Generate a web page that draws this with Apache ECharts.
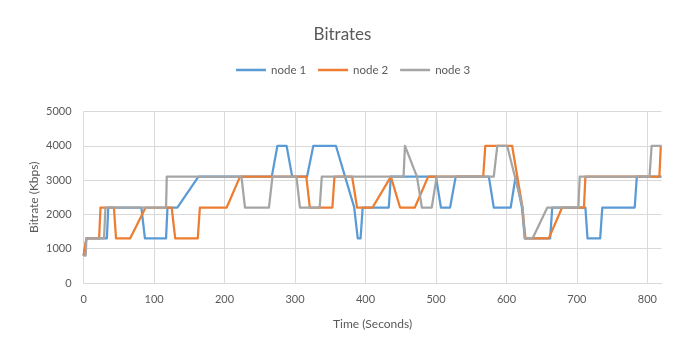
<!DOCTYPE html>
<html>
<head>
<meta charset="utf-8">
<script src="https://cdn.jsdelivr.net/npm/echarts@6/dist/echarts.min.js"></script>
<style>
  html, body { margin: 0; padding: 0; background: #fff; }
  #chart { width: 685px; height: 349px; }
</style>
</head>
<body>
<div id="chart"></div>
<script>
// Bitrate traces (seconds, Kbps) for each node
const node1Time = [0, 4, 33, 35, 82, 87, 117, 119, 133, 163, 267, 275, 288, 296, 317, 326, 358, 371, 384, 389, 393, 396, 433, 436, 500, 507, 520, 528, 575, 582, 606, 613, 622, 626, 662, 665, 712, 715, 733, 736, 782, 785, 820];
const node1Rate = [800, 1300, 1300, 2200, 2200, 1300, 1300, 2200, 2200, 3100, 3100, 4000, 4000, 3100, 3100, 4000, 4000, 3100, 2200, 1300, 1300, 2200, 2200, 3100, 3100, 2200, 2200, 3100, 3100, 2200, 2200, 3100, 2200, 1300, 1300, 2200, 2200, 1300, 1300, 2200, 2200, 3100, 3100];

const node2Time = [0, 4, 22, 24, 43, 46, 66, 88, 125, 130, 162, 165, 203, 222, 316, 321, 353, 356, 381, 388, 410, 436, 449, 470, 489, 567, 570, 608, 622, 627, 660, 679, 710, 712, 817, 819];
const node2Rate = [800, 1300, 1300, 2200, 2200, 1300, 1300, 2200, 2200, 1300, 1300, 2200, 2200, 3100, 3100, 2200, 2200, 3100, 3100, 2200, 2200, 3100, 2200, 2200, 3100, 3100, 4000, 4000, 2300, 1300, 1300, 2200, 2200, 3100, 3100, 4000];

const node3Time = [0, 3, 4, 29, 31, 117, 118, 224, 229, 263, 268, 302, 307, 335, 338, 454, 456, 473, 480, 494, 501, 582, 587, 601, 623, 626, 637, 658, 702, 704, 803, 806, 820];
const node3Rate = [800, 800, 1300, 1300, 2200, 2200, 3100, 3100, 2200, 2200, 3100, 3100, 2200, 2200, 3100, 3100, 4000, 3100, 2200, 2200, 3100, 3100, 4000, 4000, 2200, 1300, 1300, 2200, 2200, 3100, 3100, 4000, 4000];

const seriesNames = ['node 1', 'node 2', 'node 3'];
const seriesColors = ['#5B9BD5', '#ED7D31', '#A5A5A5'];

const zip = (ts, vs) => ts.map((t, i) => [t, vs[i]]);
const traces = [zip(node1Time, node1Rate), zip(node2Time, node2Rate), zip(node3Time, node3Rate)];

const FONT = 'Lato, "Open Sans", sans-serif';
const TEXT = '#595959';
const GRID = '#D9D9D9';

const chart = echarts.init(document.getElementById('chart'), null, { renderer: 'canvas' });
chart.setOption({
  animation: false,
  backgroundColor: '#fff',
  color: seriesColors,
  title: {
    text: 'Bitrates',
    left: 'center',
    top: 21,
    textStyle: { fontFamily: FONT, fontSize: 17, fontWeight: 'normal', color: TEXT }
  },
  legend: {
    data: seriesNames,
    top: 59,
    left: 231,
    icon: 'rect',
    itemWidth: 30,
    itemHeight: 2.5,
    itemGap: 12,
    textStyle: { fontFamily: FONT, fontSize: 11.5, color: TEXT }
  },
  grid: { left: 83.6, right: 23.5, top: 111.5, bottom: 66 },
  xAxis: {
    type: 'value',
    min: 0,
    max: 820,
    interval: 100,
    name: 'Time (Seconds)',
    nameLocation: 'middle',
    nameGap: 35,
    nameTextStyle: { fontFamily: FONT, fontSize: 12, color: TEXT },
    axisLine: { show: true, lineStyle: { color: GRID, width: 1 } },
    axisTick: { show: false },
    axisLabel: { fontFamily: FONT, fontSize: 11, color: TEXT, margin: 11, showMaxLabel: false },
    splitLine: { show: true, showMaxLine: false, lineStyle: { color: GRID, width: 1 } }
  },
  yAxis: {
    type: 'value',
    min: 0,
    max: 5000,
    interval: 1000,
    name: 'Bitrate (Kbps)',
    nameLocation: 'middle',
    nameGap: 43,
    nameMoveOverlap: false,
    nameTextStyle: { fontFamily: FONT, fontSize: 12, color: TEXT },
    axisLine: { show: false },
    axisTick: { show: false },
    axisLabel: { fontFamily: FONT, fontSize: 11, color: TEXT, margin: 12, formatter: (v) => String(v) },
    splitLine: { show: true, lineStyle: { color: GRID, width: 1 } }
  },
  series: seriesNames.map((name, i) => ({
    name,
    type: 'line',
    data: traces[i],
    showSymbol: false,
    symbol: 'none',
    lineStyle: { color: seriesColors[i], width: 2.25, join: 'round' },
    itemStyle: { color: seriesColors[i] },
    z: 2 + i
  }))
});
</script>
</body>
</html>
